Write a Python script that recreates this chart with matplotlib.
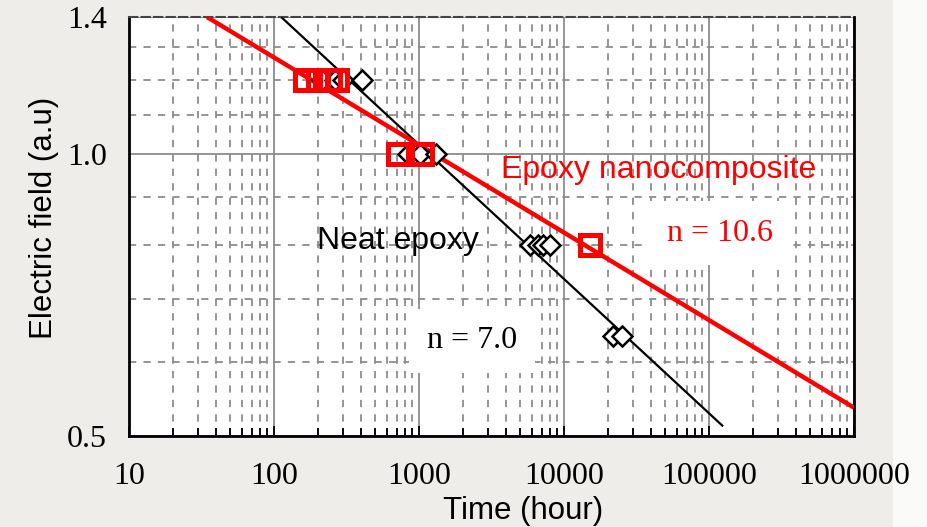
import matplotlib
matplotlib.use("Agg")
import matplotlib.pyplot as plt
from matplotlib.patches import Rectangle

# data
neat_time = [214, 264, 299, 404, 840, 1016, 1310, 5830, 6620, 7160, 8000, 21800, 25100]
neat_field = [1.2, 1.2, 1.2, 1.2, 1.0, 1.0, 1.0, 0.8, 0.8, 0.8, 0.8, 0.64, 0.64]

nano_time = [164, 201, 243, 272, 716, 1049, 15100]
nano_field = [1.2, 1.2, 1.2, 1.2, 1.0, 1.0, 0.8]

# fitted lines (end points)
neat_fit_time = [112, 125000]
neat_fit_field = [1.4, 0.512]
nano_fit_time = [34.5, 1000000]
nano_fit_field = [1.4, 0.536]

x_ticks = [10, 100, 1000, 10000, 100000, 1000000]
x_tick_labels = ["10", "100", "1000", "10000", "100000", "1000000"]
x_minor = [m * d for d in x_ticks[:-1] for m in range(2, 10)]
y_ticks = [0.5, 1.0, 1.4]
y_tick_labels = ["0.5", "1.0", "1.4"]
y_minor = [0.6, 0.7, 0.8, 0.9, 1.1, 1.2, 1.3]

SERIF = "Liberation Serif"
SANS = "Liberation Sans"
BG = "#eeede9"

fig = plt.figure(figsize=(9.27, 5.27), dpi=100, facecolor=BG)
fig.patches.append(Rectangle((893 / 927, 0), 1, 1, transform=fig.transFigure,
                             facecolor="#fafaf9", edgecolor="none", zorder=-5))
ax = fig.add_axes([0.1392, 0.1727, 0.7821, 0.795])
ax.set_facecolor("white")

ax.set_xscale("log")
ax.set_yscale("log")
ax.set_xlim(10, 1000000)
ax.set_ylim(0.5, 1.4)

ax.set_xticks(x_ticks)
ax.set_xticklabels(x_tick_labels)
ax.set_xticks(x_minor, minor=True)
ax.set_xticklabels([], minor=True)
ax.set_yticks(y_ticks)
ax.set_yticklabels(y_tick_labels)
ax.set_yticks(y_minor, minor=True)
ax.set_yticklabels([], minor=True)

ax.grid(True, which="major", color="#8c8c8c", linestyle="-", linewidth=1.3)
ax.grid(True, which="minor", color="#8c8c8c", linestyle=(0, (4, 4)), linewidth=1.3)
ax.set_axisbelow(True)

ax.tick_params(axis="x", which="both", direction="in", top=False, pad=19,
               color="black")
ax.tick_params(axis="x", which="major", length=7, width=1.3)
ax.tick_params(axis="x", which="minor", length=6, width=1.3)
ax.tick_params(axis="y", which="both", length=0, pad=16)
for lab in ax.get_xticklabels() + ax.get_yticklabels():
    lab.set_fontfamily(SERIF)
    lab.set_fontsize(23)

for side in ["left", "bottom", "right"]:
    ax.spines[side].set_color("black")
    ax.spines[side].set_linewidth(2)
ax.spines["top"].set_color("#444444")
ax.spines["top"].set_linestyle((0, (4, 2)))
ax.spines["top"].set_linewidth(1.5)

ax.plot(neat_fit_time, neat_fit_field, color="black", lw=1.6, zorder=3,
        solid_capstyle="butt")
ax.plot(nano_fit_time, nano_fit_field, color="#ff0000", lw=3.2, zorder=3,
        solid_capstyle="butt")

ax.plot(neat_time, neat_field, linestyle="none", marker="D", ms=10.5,
        mfc="white", mec="black", mew=1.8, zorder=4)
ax.plot(nano_time, nano_field, linestyle="none", marker="s", ms=14.5,
        mfc="none", mec="#ff0000", mew=3.6, zorder=5)

ax.text(0.371, 0.465, "Neat epoxy", transform=ax.transAxes, fontsize=23,
        family=SANS, ha="center", va="center", zorder=6)
ax.text(0.730, 0.635, "Epoxy nanocomposite", transform=ax.transAxes,
        fontsize=23, family=SANS, color="#ff0000", ha="center", va="center",
        zorder=6)
ax.text(0.815, 0.484, "n = 10.6", transform=ax.transAxes, fontsize=23,
        family=SERIF, color="#ff0000", ha="center", va="center", zorder=2.5,
        bbox=dict(boxstyle="square,pad=0.55", facecolor="white", edgecolor="none"))
ax.text(0.473, 0.227, "n = 7.0", transform=ax.transAxes, fontsize=23,
        family=SERIF, color="black", ha="center", va="center", zorder=2.5,
        bbox=dict(boxstyle="square,pad=0.55", facecolor="white", edgecolor="none"))

ax.set_xlabel("Time (hour)", fontsize=22.5, family=SANS)
ax.set_ylabel("Electric field (a.u)", fontsize=22.5, family=SANS)
ax.xaxis.set_label_coords(0.543, -0.143)
ax.yaxis.set_label_coords(-0.0966, 0.520)

fig.savefig("out.png", dpi=100, facecolor=BG)
